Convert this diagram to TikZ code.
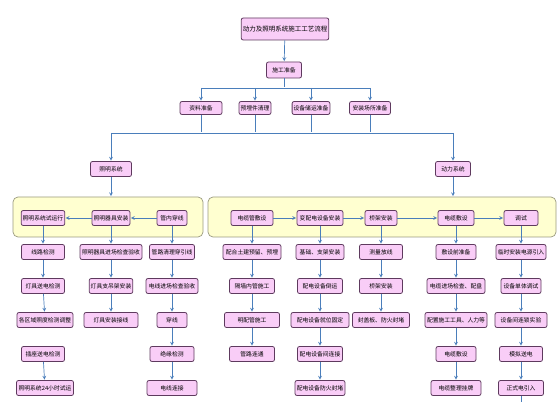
\documentclass[tikz,border=0pt]{standalone}
\usepackage{fontspec}
\newfontfamily\cjk{Noto Sans CJK SC}
\definecolor{boxpink}{HTML}{F9CDF7}
\definecolor{boxline}{HTML}{5E3A5E}
\definecolor{grpfill}{HTML}{FFFFD0}
\definecolor{grpline}{HTML}{9A9A80}
\definecolor{wire}{HTML}{4A7EBB}
\begin{document}
\begin{tikzpicture}[x=1pt, y=-1pt]
\tikzstyle{box}=[draw=boxline, fill=boxpink, rounded corners=2pt, line width=0.8pt, font=\cjk\fontsize{5.8}{6}\selectfont, inner xsep=1.5pt, inner ysep=0pt, minimum height=15, minimum width=40]
\tikzstyle{group}=[draw=grpline, fill=grpfill, rounded corners=5pt, line width=0.7pt]
\tikzstyle{link}=[->, >=stealth, draw=wire, line width=0.7pt, shorten >=0.5pt]

\useasboundingbox (0,0) rectangle (560,403);

% top of the flow
\node[box, minimum width=85, minimum height=22, font=\cjk\fontsize{6.5}{7}\selectfont] (title) at (285,29) {动力及照明系统施工工艺流程};
\node[box, minimum width=35, minimum height=16] (prep) at (284,70) {施工准备};

\node[box, minimum width=42, minimum height=13] (docs) at (201,108) {资料准备};
\node[box, minimum width=30, minimum height=13] (embed) at (255,108) {预埋件清理};
\node[box, minimum width=37, minimum height=13] (store) at (311,108) {设备储运准备};
\node[box, minimum width=41, minimum height=13] (site) at (370,108) {安装场所准备};

\node[box, minimum width=41] (light) at (111,169) {照明系统};
\node[box, minimum width=35] (power) at (453,169) {动力系统};

\coordinate (bus1) at (284,88);
\coordinate (bus2) at (284,133);

\draw[link] (title) -- (prep);
\draw[link,-] (prep) -- (bus1);
\draw[link,-] (docs |- bus1) -- (site |- bus1);
\draw[link] (docs |- bus1) -- (docs);
\draw[link] (embed |- bus1) -- (embed);
\draw[link] (store |- bus1) -- (store);
\draw[link] (site |- bus1) -- (site);
\draw[link,-] (docs) -- (docs |- bus2);
\draw[link,-] (embed) -- (embed |- bus2);
\draw[link,-] (store) -- (store |- bus2);
\draw[link,-] (site) -- (site |- bus2);
\draw[link,-] (light |- bus2) -- (power |- bus2);
\draw[link] (light |- bus2) -- (light);
\draw[link] (power |- bus2) -- (power);

% the two yellow groups
\node[group, minimum width=190, minimum height=40] (lgrp) at (108,217) {};
\node[group, minimum width=348, minimum height=40] (pgrp) at (382,217) {};
\draw[link] (light) -- (light |- lgrp.north);
\draw[link] (power) -- (power |- pgrp.north);

\node[box, minimum width=43] (l1) at (43,218) {照明系统试运行};
\node[box, minimum width=38] (l2) at (111,218) {照明器具安装};
\node[box, minimum width=30] (l3) at (172,218) {管内穿线};

\node[box, minimum width=42] (p1) at (252,218) {电缆管敷设};
\node[box, minimum width=46] (p2) at (320,218) {变配电设备安装};
\node[box, minimum width=32] (p3) at (381,218) {桥架安装};
\node[box, minimum width=36] (p4) at (456,218) {电缆敷设};
\node[box, minimum width=34] (p5) at (521,218) {调试};

\draw[link] (l2) -- (l1);
\draw[link] (l3) -- (l2);
\draw[link] (p1) -- (p2);
\draw[link] (p2) -- (p3);
\draw[link] (p3) -- (p4);
\draw[link] (p4) -- (p5);

% lighting columns
\node[box, minimum width=43] (l1a) at (43,252) {线路检测};
\node[box, minimum width=43] (l1b) at (43,286) {灯具送电检测};
\node[box, minimum width=56] (l1c) at (45,320) {各区域照度检测调整};
\node[box, minimum width=43] (l1d) at (43,354) {插座送电检测};
\node[box, minimum width=57] (l1e) at (45,388) {照明系统24小时试运};

\node[box, minimum width=62] (l2a) at (111,252) {照明器具进场检查验收};
\node[box, minimum width=43] (l2b) at (111,286) {灯具支吊架安装};
\node[box, minimum width=54] (l2c) at (111,320) {灯具安装接线};

\node[box, minimum width=45] (l3a) at (172,252) {管路清理穿引线};
\node[box, minimum width=52] (l3b) at (172,286) {电线进场检查验收};
\node[box, minimum width=30] (l3c) at (172,320) {穿线};
\node[box, minimum width=44] (l3d) at (172,354) {绝缘检测};
\node[box, minimum width=50] (l3e) at (172,388) {电线连接};

\draw[link] (l1) -- (l1a);
\draw[link] (l1a) -- (l1b);
\draw[link] (l1b) -- (l1c);
\draw[link] (l1d) -- (l1e);
\draw[link] (l2) -- (l2a);
\draw[link] (l2a) -- (l2b);
\draw[link] (l2b) -- (l2c);
\draw[link] (l3) -- (l3a);
\draw[link] (l3a) -- (l3b);
\draw[link] (l3b) -- (l3c);
\draw[link] (l3c) -- (l3d);
\draw[link] (l3d) -- (l3e);

% power columns
\node[box, minimum width=58] (p1a) at (252,252) {配合土建预留、预埋};
\node[box, minimum width=45] (p1b) at (252,286) {隔墙内管施工};
\node[box, minimum width=55] (p1c) at (252,320) {明配管施工};
\node[box, minimum width=45] (p1d) at (252,354) {管路连通};

\node[box, minimum width=48] (p2a) at (320,252) {基础、支架安装};
\node[box, minimum width=45] (p2b) at (320,286) {配电设备倒运};
\node[box, minimum width=58] (p2c) at (320,320) {配电设备就位固定};
\node[box, minimum width=45] (p2d) at (320,354) {配电设备间连接};
\node[box, minimum width=50] (p2e) at (320,388) {配电设备防火封堵};

\node[box, minimum width=43] (p3a) at (381,252) {测量放线};
\node[box, minimum width=43] (p3b) at (381,286) {桥架安装};
\node[box, minimum width=57] (p3c) at (381,320) {封盖板、防火封堵};

\node[box, minimum width=40] (p4a) at (456,252) {敷设前准备};
\node[box, minimum width=58] (p4b) at (456,286) {电缆进场检查、配盘};
\node[box, minimum width=62] (p4c) at (456,320) {配置施工工具、人力等};
\node[box, minimum width=40] (p4d) at (456,354) {电缆敷设};
\node[box, minimum width=50] (p4e) at (456,388) {电缆整理挂牌};

\node[box, minimum width=50] (p5a) at (521,252) {临时安装电源引入};
\node[box, minimum width=40] (p5b) at (521,286) {设备单体调试};
\node[box, minimum width=52] (p5c) at (521,320) {设备间连锁实验};
\node[box, minimum width=43] (p5d) at (521,354) {模拟送电};
\node[box, minimum width=45] (p5e) at (521,388) {正式电引入};
\coordinate (p5end) at (521,403);

\draw[link] (p1) -- (p1a);
\draw[link] (p1a) -- (p1b);
\draw[link] (p1b) -- (p1c);
\draw[link] (p1c) -- (p1d);
\draw[link] (p2) -- (p2a);
\draw[link] (p2a) -- (p2b);
\draw[link] (p2b) -- (p2c);
\draw[link] (p2c) -- (p2d);
\draw[link] (p2d) -- (p2e);
\draw[link] (p3) -- (p3a);
\draw[link] (p3a) -- (p3b);
\draw[link] (p3b) -- (p3c);
\draw[link] (p4) -- (p4a);
\draw[link] (p4a) -- (p4b);
\draw[link] (p4b) -- (p4c);
\draw[link] (p4c) -- (p4d);
\draw[link] (p4d) -- (p4e);
\draw[link] (p5) -- (p5a);
\draw[link] (p5a) -- (p5b);
\draw[link] (p5b) -- (p5c);
\draw[link] (p5c) -- (p5d);
\draw[link] (p5d) -- (p5e);
\draw[link,-] (p5e) -- (p5end);

\end{tikzpicture}
\end{document}
